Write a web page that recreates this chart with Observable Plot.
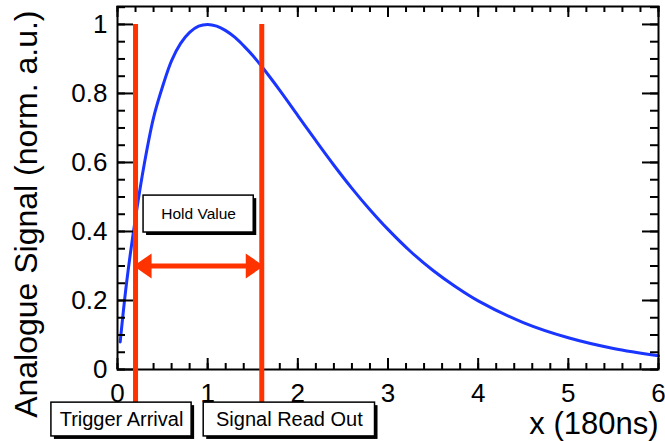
<!DOCTYPE html>
<html>
<head>
<meta charset="utf-8">
<script src="https://cdn.jsdelivr.net/npm/d3@7"></script>
<script src="https://cdn.jsdelivr.net/npm/@observablehq/plot@0.6"></script>
<style>
  html, body { margin: 0; padding: 0; background: #fff; }
  #chart svg { display: block; }
</style>
</head>
<body>
<div id="chart"></div>
<script>
// ---- data ----
const signalX = [0.03, 0.1, 0.2, 0.3, 0.4, 0.5, 0.6, 0.7, 0.8, 0.9, 1.0, 1.1, 1.2, 1.3, 1.4, 1.5, 1.6, 1.8, 2.0, 2.2, 2.4, 2.6, 2.8, 3.0, 3.25, 3.5, 3.75, 4.0, 4.5, 5.0, 5.5, 6.0];
const signalY = [0.08, 0.25, 0.44, 0.60, 0.73, 0.82, 0.895, 0.945, 0.977, 0.995, 1.0, 0.995, 0.982, 0.963, 0.938, 0.91, 0.878, 0.809, 0.736, 0.663, 0.592, 0.525, 0.463, 0.406, 0.342, 0.287, 0.24, 0.199, 0.136, 0.092, 0.061, 0.04];

const xTicks = [0, 1, 2, 3, 4, 5, 6];
const yTicks = [0, 0.2, 0.4, 0.6, 0.8, 1];
const xTickLabels = ["0", "1", "2", "3", "4", "5", "6"];
const yTickLabels = ["0", "0.2", "0.4", "0.6", "0.8", "1"];
const xMinorTicks = [0,0.2,0.4,0.6,0.8,1,1.2,1.4,1.6,1.8,2,2.2,2.4,2.6,2.8,3,3.2,3.4,3.6,3.8,4,4.2,4.4,4.6,4.8,5,5.2,5.4,5.6,5.8,6];
const yMinorTicks = [0,0.05,0.1,0.15,0.2,0.25,0.3,0.35,0.4,0.45,0.5,0.55,0.6,0.65,0.7,0.75,0.8,0.85,0.9,0.95,1,1.05];

const markerX = [0.2, 1.6];          // trigger arrival, signal read out
const holdLevel = 0.3;               // level of the hold-value arrow
const markerTop = 1.0;
const markerBottom = -0.1;

const xTitle = "x (180ns)";
const yTitle = "Analogue Signal (norm. a.u.)";

// annotation boxes (data units)
const boxLabels = ["Hold Value", "Trigger Arrival", "Signal Read Out"];
const boxX1 = [0.289, -0.733, 0.956];
const boxX2 = [1.511, 0.822, 2.856];
const boxY1 = [0.397, -0.194, -0.194];
const boxY2 = [0.504, -0.096, -0.096];

// ---- layout / style ----
const W = 665, H = 441;
const mL = 117, mR = 7, mT = 6, mB = 72;
const innerW = W - mL - mR, innerH = H - mT - mB;
const xDomain = [0, 6], yDomain = [0, 1.052];
const red = "#ff3300", blue = "#1a35ff";
const font = "'Liberation Sans', Arial, Helvetica, sans-serif";

// convert a tick length in pixels into data units along each axis
const lenX = px => px * (xDomain[1] - xDomain[0]) / innerW;
const lenY = px => px * (yDomain[1] - yDomain[0]) / innerH;

const curveData = signalX.map((x, i) => ({x, y: signalY[i]}));
const boxes = boxLabels.map((label, i) => ({label, x1: boxX1[i], x2: boxX2[i], y1: boxY1[i], y2: boxY2[i]}));
const heads = [{x: markerX[0], angle: 180}, {x: markerX[1], angle: 0}];

// filled arrowhead with its tip at the origin, pointing right
const headSymbol = {
  draw(context) {
    context.moveTo(2, 0);
    context.lineTo(-16, -12.5);
    context.lineTo(-16, 12.5);
    context.closePath();
  }
};

const xTickMarks = (values, px) => [
  Plot.ruleX(values, {x: d => d, y1: yDomain[0], y2: yDomain[0] + lenY(px), stroke: "black", strokeWidth: 2}),
  Plot.ruleX(values, {x: d => d, y1: yDomain[1], y2: yDomain[1] - lenY(px), stroke: "black", strokeWidth: 2})
];
const yTickMarks = (values, px) => [
  Plot.ruleY(values, {y: d => d, x1: xDomain[0], x2: xDomain[0] + lenX(px), stroke: "black", strokeWidth: 2}),
  Plot.ruleY(values, {y: d => d, x1: xDomain[1], x2: xDomain[1] - lenX(px), stroke: "black", strokeWidth: 2})
];

const chart = Plot.plot({
  width: W, height: H,
  marginLeft: mL, marginRight: mR, marginTop: mT, marginBottom: mB,
  style: {fontFamily: font, color: "black"},
  x: {domain: xDomain},
  y: {domain: yDomain},
  marks: [
    Plot.axisX(xTicks, {anchor: "bottom", tickSize: 0, tickPadding: 14, fontSize: 26, label: null,
      tickFormat: d => xTickLabels[xTicks.indexOf(d)]}),
    Plot.axisY(yTicks, {anchor: "left", tickSize: 0, tickPadding: 10, fontSize: 26, label: null,
      tickFormat: d => yTickLabels[yTicks.indexOf(d)]}),
    // titles
    Plot.text([yTitle], {frameAnchor: "top-left", rotate: -90, textAnchor: "end", lineAnchor: "middle",
      fontSize: 32, dx: -91, dy: 4, fill: "black"}),
    Plot.text([xTitle], {frameAnchor: "bottom-right", textAnchor: "end", lineAnchor: "middle",
      fontSize: 31, dx: 0, dy: 55, fill: "black"}),
    // signal
    Plot.line(curveData, {x: "x", y: "y", stroke: blue, strokeWidth: 3, curve: "catmull-rom"}),
    // inward ticks on all four sides and the frame
    ...xTickMarks(xMinorTicks, 6),
    ...xTickMarks(xTicks, 11),
    ...yTickMarks(yMinorTicks, 8),
    ...yTickMarks(yTicks, 16),
    Plot.frame({stroke: "black", fill: "none", strokeWidth: 2}),
    // red markers
    Plot.ruleX(markerX, {x: d => d, y1: markerBottom, y2: markerTop, stroke: red, strokeWidth: 5}),
    // hold-value double arrow
    Plot.link([{x1: markerX[0], x2: markerX[1]}], {x1: "x1", x2: "x2", y1: () => holdLevel, y2: () => holdLevel,
      stroke: red, strokeWidth: 5}),
    Plot.dot(heads, {x: "x", y: () => holdLevel, symbol: headSymbol, rotate: "angle", fill: red, stroke: "none"}),
    // annotation boxes with shadow
    Plot.rect(boxes, {x1: "x1", x2: "x2", y1: "y1", y2: "y2", fill: "black", dx: 3, dy: 3}),
    Plot.rect(boxes, {x1: "x1", x2: "x2", y1: "y1", y2: "y2", fill: "white", stroke: "black", strokeWidth: 1.5}),
    Plot.text(boxes.slice(0, 1), {x: d => (d.x1 + d.x2) / 2, y: d => (d.y1 + d.y2) / 2, text: "label",
      fontSize: 15.5, fill: "black", lineAnchor: "middle"}),
    Plot.text(boxes.slice(1), {x: d => (d.x1 + d.x2) / 2, y: d => (d.y1 + d.y2) / 2, text: "label",
      fontSize: 20, fill: "black", lineAnchor: "middle"})
  ]
});
document.getElementById("chart").appendChild(chart);
</script>
</body>
</html>
